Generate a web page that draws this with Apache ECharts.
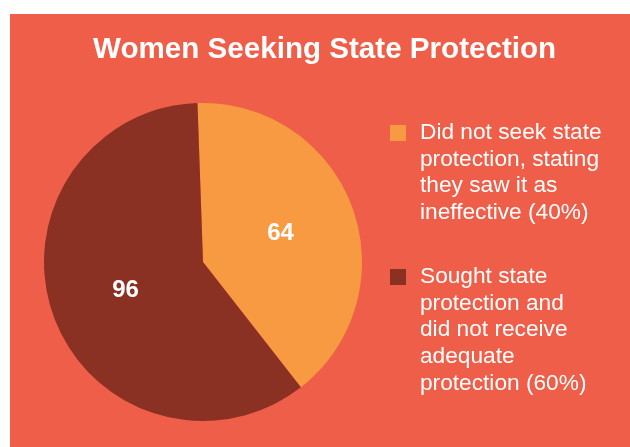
<!DOCTYPE html>
<html>
<head>
<meta charset="utf-8">
<script src="https://cdn.jsdelivr.net/npm/echarts@6/dist/echarts.min.js"></script>
<style>
  html, body { margin: 0; padding: 0; background: #fff; }
  #chart { width: 630px; height: 447px; }
</style>
</head>
<body>
<div id="chart"></div>
<script>
const titleText = "Women Seeking State Protection";
const categories = [
  "Did not seek state\nprotection, stating\nthey saw it as\nineffective (40%)",
  "Sought state\nprotection and\ndid not receive\nadequate\nprotection (60%)",
];
const counts = [64, 96];
const sliceColors = ["#F89A42", "#8A3124"];

const panelColor = "#EE5E49";
const fontFamily = "Liberation Sans, Arial, sans-serif";
const lineH = 26.6;

// icon sits beside the first line: pad the text above with blank lines
// so the block's middle falls on that line
function legendFor(idx, top) {
  const lines = categories[idx].split("\n").length;
  return {
    show: true,
    orient: "vertical",
    left: 390,
    top: top,
    padding: 0,
    selectedMode: false,
    icon: "rect",
    itemWidth: 16,
    itemHeight: 16,
    data: [categories[idx]],
    formatter: (name) => "\n".repeat(lines - 1) + name,
    textStyle: {
      color: "#fff",
      fontFamily: fontFamily,
      fontSize: 22.7,
      lineHeight: lineH,
      padding: [0, 0, 0, 9],
    },
  };
}

const chart = echarts.init(document.getElementById("chart"), null, { renderer: "canvas" });
chart.setOption({
  backgroundColor: "#fff",
  animation: false,
  color: sliceColors,
  graphic: [
    {
      type: "rect",
      left: 10,
      top: 14,
      z: -10,
      shape: { width: 620, height: 433 },
      style: { fill: panelColor },
    },
  ],
  title: {
    text: titleText,
    left: 93,
    top: 35,
    padding: 0,
    textStyle: {
      color: "#fff",
      fontFamily: fontFamily,
      fontSize: 29.6,
      fontWeight: "bold",
    },
  },
  legend: [legendFor(0, 39.9), legendFor(1, 157.3)],
  series: [
    {
      type: "pie",
      center: [203, 262],
      radius: 159,
      startAngle: 92,
      clockwise: true,
      data: categories.map((name, i) => ({ name: name, value: counts[i] })),
      label: {
        show: true,
        position: "inside",
        formatter: "{c}",
        color: "#fff",
        fontFamily: fontFamily,
        fontSize: 24,
        fontWeight: "bold",
      },
      labelLine: { show: false },
      itemStyle: { borderWidth: 0 },
      emphasis: { disabled: true },
    },
  ],
});
</script>
</body>
</html>
